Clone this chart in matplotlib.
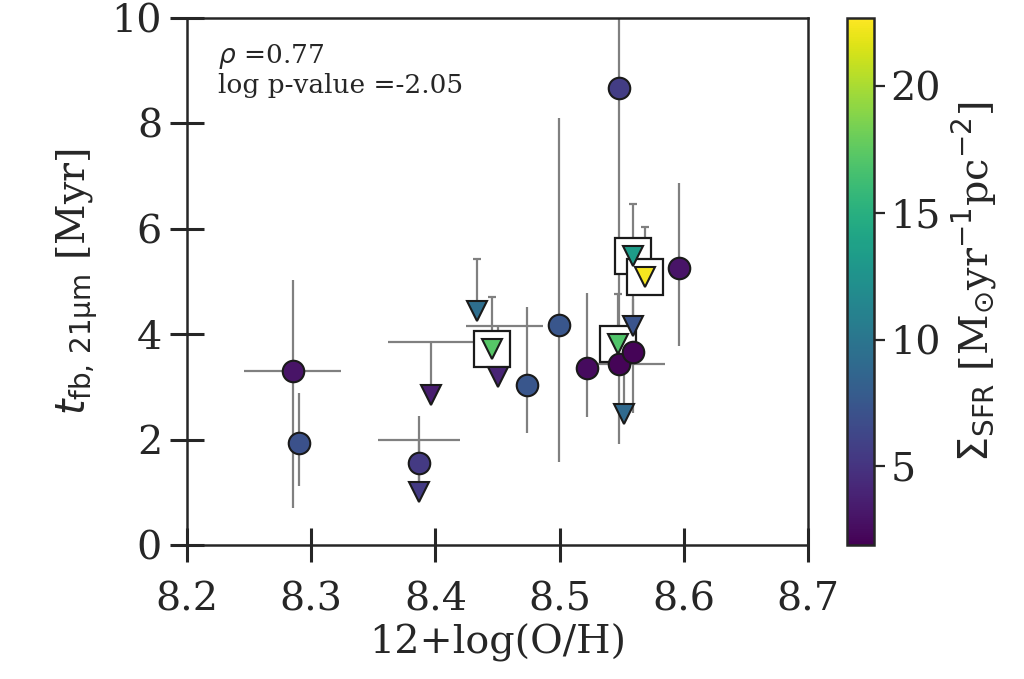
import matplotlib
matplotlib.use("Agg")
import matplotlib.pyplot as plt
from matplotlib.colors import Normalize
from matplotlib import cm

# detections (circles)
det_oh = [8.285, 8.290, 8.387, 8.474, 8.4995, 8.522, 8.548, 8.559, 8.596, 8.548]
det_t = [3.30, 1.93, 1.56, 3.03, 4.17, 3.35, 3.44, 3.66, 5.26, 8.67]
det_t_lo = [2.60, 0.81, 0.50, 0.90, 2.59, 0.93, 0.0, 1.16, 1.49, 6.75]
det_t_hi = [1.72, 0.95, 0.88, 1.48, 3.94, 1.43, 0.0, 1.00, 1.60, 6.00]
det_oh_lo = [0.039, 0, 0, 0, 0, 0, 0.018, 0, 0, 0]
det_oh_hi = [0.039, 0, 0, 0, 0, 0, 0.037, 0, 0, 0]
det_sfr = [3.0, 7.1, 5.4, 7.5, 7.5, 2.5, 2.1, 2.1, 3.0, 5.6]

# upper limits (triangles), line drawn from marker up to lim_top
lim_oh = [8.387, 8.3965, 8.4335, 8.4504, 8.4456, 8.547, 8.559, 8.552, 8.559, 8.569]
lim_t = [1.01, 2.85, 4.44, 3.18, 3.71, 3.81, 4.15, 2.48, 5.49, 5.08]
lim_top = [2.00, 3.85, 5.43, 4.16, 4.70, 4.76, 5.15, 3.48, 6.48, 6.04]
lim_oh_lo = [0.033, 0.035, 0, 0.026, 0, 0, 0, 0, 0, 0]
lim_oh_hi = [0.033, 0.035, 0, 0.036, 0, 0, 0, 0, 0, 0]
lim_sfr = [5.5, 3.6, 9.3, 4.0, 17.2, 17.0, 7.3, 9.0, 13.3, 22.4]
lim_boxed = [False, False, False, False, True, True, False, False, True, True]

rho_text = r"$\rho$ =0.77"
pval_text = "log p-value =-2.05"

plt.rcParams["font.family"] = "serif"
plt.rcParams["font.serif"] = ["DejaVu Serif"]
plt.rcParams["mathtext.fontset"] = "dejavusans"
plt.rcParams["text.color"] = "#262626"
plt.rcParams["axes.labelcolor"] = "#262626"
plt.rcParams["xtick.color"] = "#262626"
plt.rcParams["ytick.color"] = "#262626"

fig = plt.figure(figsize=(10.24, 6.79), dpi=100)
ax = fig.add_axes([187 / 1024, 1 - 545 / 679, 621 / 1024, 527 / 679])
cax = fig.add_axes([847 / 1024, 1 - 545 / 679, 27 / 1024, 527 / 679])

cmap = plt.get_cmap("viridis")
norm = Normalize(vmin=1.9, vmax=22.7)
err_kw = dict(fmt="none", ecolor="#808080", elinewidth=1.6, zorder=1)
edge = "#1a1a1a"

# error bars of detections
for i in range(len(det_oh)):
    xe = None
    if det_oh_lo[i] > 0 or det_oh_hi[i] > 0:
        xe = [[det_oh_lo[i]], [det_oh_hi[i]]]
    ax.errorbar(det_oh[i], det_t[i], xerr=xe,
                yerr=[[det_t_lo[i]], [det_t_hi[i]]], capsize=0, **err_kw)

# error bars of upper limits
for i in range(len(lim_oh)):
    if lim_oh_lo[i] > 0:
        ax.errorbar(lim_oh[i], lim_top[i], xerr=[[lim_oh_lo[i]], [lim_oh_hi[i]]],
                    yerr=[[lim_top[i] - lim_t[i]], [0]], capsize=0, **err_kw)
    else:
        ax.errorbar(lim_oh[i], lim_t[i], yerr=[[0], [lim_top[i] - lim_t[i]]],
                    capsize=3, capthick=1.6, **err_kw)

# boxes around some limits
for i in range(len(lim_oh)):
    if lim_boxed[i]:
        ax.plot(lim_oh[i], lim_t[i], marker="s", ms=26, mfc="white",
                mec=edge, mew=1.6, ls="none", zorder=2)

for i in range(len(lim_oh)):
    ax.plot(lim_oh[i], lim_t[i], marker="v", ms=15, mfc=cmap(norm(lim_sfr[i])),
            mec=edge, mew=1.5, ls="none", zorder=3)

for i in range(len(det_oh)):
    ax.plot(det_oh[i], det_t[i], marker="o", ms=15.5, mfc=cmap(norm(det_sfr[i])),
            mec=edge, mew=1.5, ls="none", zorder=4)

ax.set_xlim(8.2, 8.7)
ax.set_ylim(0, 10)
ax.set_xticks([8.2, 8.3, 8.4, 8.5, 8.6, 8.7])
ax.set_yticks([0, 2, 4, 6, 8, 10])
ax.tick_params(axis="both", direction="inout", length=24, width=2.2,
               labelsize=28.5)
ax.tick_params(axis="x", pad=14)
ax.tick_params(axis="y", pad=6)
for s in ax.spines.values():
    s.set_linewidth(1.8)
    s.set_color("#262626")

ax.set_xlabel("12+log(O/H)", fontsize=28.5, labelpad=4)
ax.set_ylabel(r"$t_{\rm fb,\,21\mu m}$ [Myr]", fontsize=28.5, labelpad=8)

ax.text(0.05, 0.955, rho_text, transform=ax.transAxes, va="top", fontsize=19)
ax.text(0.05, 0.895, pval_text, transform=ax.transAxes, va="top", fontsize=19)

sm = cm.ScalarMappable(norm=norm, cmap=cmap)
cb = fig.colorbar(sm, cax=cax, ticks=[5, 10, 15, 20])
cb.outline.set_linewidth(1.8)
cb.outline.set_edgecolor("#262626")
cax.tick_params(direction="out", length=8, width=1.6, labelsize=28.5, pad=4)
cb.set_label(r"$\Sigma_{\rm SFR}$ [M$_{\odot}$yr$^{-1}$pc$^{-2}$]",
             fontsize=28.5, labelpad=6)

fig.savefig("out.png", dpi=100)
